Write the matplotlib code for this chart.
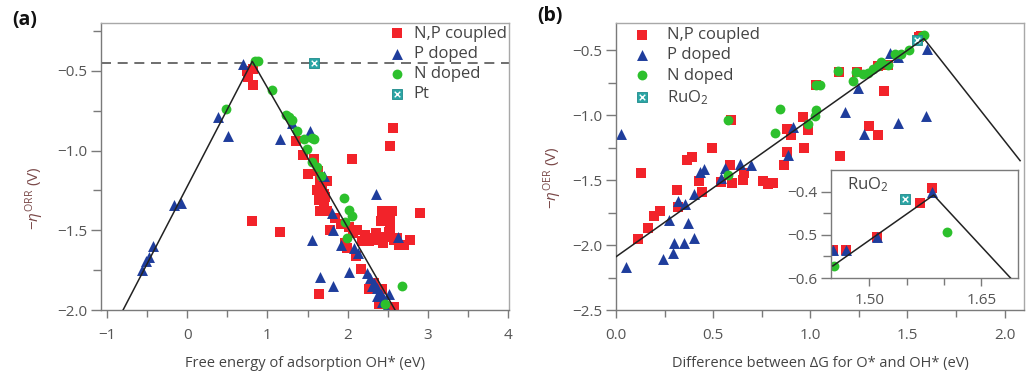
import matplotlib
matplotlib.use("Agg")
import matplotlib.pyplot as plt
from matplotlib.ticker import MultipleLocator, FixedLocator
from matplotlib.legend_handler import HandlerTuple

plt.rcParams['font.family'] = ['Open Sans', 'DejaVu Sans']
plt.rcParams['mathtext.fontset'] = 'custom'
plt.rcParams['mathtext.rm'] = 'Open Sans'
plt.rcParams['mathtext.it'] = 'Open Sans:italic'

# ---------------- data: panel (a) ORR ----------------
a_np_x = [0.74, 0.76, 0.82, 0.82, 0.81, 1.15, 1.35, 1.44, 1.58, 1.51,
          1.63, 1.66, 1.74, 1.62, 1.71, 1.64, 1.71, 1.65, 1.74, 1.84,
          1.91, 2.05, 2.57, 2.53, 2.43, 2.55, 2.41, 2.53, 2.90, 1.78,
          2.01, 2.12, 2.22, 2.30, 2.39, 2.47, 2.51, 2.58, 2.64, 2.70,
          2.77, 2.35, 1.99, 2.16, 1.64, 2.26, 2.43, 2.39, 2.58, 2.53,
          1.68, 1.72, 2.06, 2.18, 2.27, 2.44, 2.33, 1.96, 2.10, 2.62]
a_np_y = [-0.50, -0.54, -0.49, -0.59, -1.44, -1.51, -0.94, -1.03, -1.05, -1.15,
          -1.13, -1.19, -1.19, -1.25, -1.27, -1.31, -1.33, -1.38, -1.38, -1.42,
          -1.46, -1.05, -0.86, -0.97, -1.38, -1.38, -1.44, -1.44, -1.39, -1.50,
          -1.48, -1.50, -1.53, -1.55, -1.56, -1.54, -1.51, -1.56, -1.59, -1.59,
          -1.56, -1.52, -1.61, -1.74, -1.90, -1.87, -1.87, -1.96, -1.98, -1.50,
          -1.22, -1.29, -1.52, -1.57, -1.57, -1.58, -1.83, -1.58, -1.66, -1.55]

a_p_x = [0.70, 0.38, 0.51, -0.16, -0.08, -0.43, -0.48, -0.51, -0.57, 1.15,
         1.53, 1.30, 2.35, 1.71, 1.80, 1.82, 1.55, 1.91, 2.08, 2.13,
         2.01, 1.66, 1.82, 2.63, 2.24, 2.28, 2.33, 2.37, 2.41, 2.45,
         2.48, 2.51, 2.30, 2.36, 2.43]
a_p_y = [-0.46, -0.79, -0.91, -1.34, -1.33, -1.60, -1.67, -1.69, -1.75, -0.93,
         -0.88, -0.83, -1.27, -1.16, -1.39, -1.50, -1.56, -1.59, -1.61, -1.64,
         -1.76, -1.79, -1.85, -1.54, -1.77, -1.80, -1.83, -1.86, -1.90, -1.93,
         -1.99, -1.90, -1.85, -1.91, -1.95]

a_n_x = [0.85, 0.88, 0.48, 1.05, 1.23, 1.27, 1.31, 1.37, 1.45, 1.55,
         1.58, 1.49, 1.55, 1.62, 1.67, 1.95, 2.01, 2.05, 1.96, 1.99,
         2.68, 2.46]
a_n_y = [-0.44, -0.44, -0.74, -0.62, -0.78, -0.79, -0.81, -0.88, -0.93, -0.92,
         -0.93, -0.99, -1.07, -1.10, -1.16, -1.30, -1.37, -1.41, -1.45, -1.55,
         -1.85, -1.96]

a_pt_x = [1.58]
a_pt_y = [-0.45]

a_line_x = [-0.80, 0.81, 2.59]
a_line_y = [-2.00, -0.44, -2.00]
a_dash_y = -0.45

# ---------------- data: panel (b) OER ----------------
b_np_x = [0.111, 0.128, 0.166, 0.195, 0.226, 0.312, 0.320, 0.368, 0.392, 0.428,
          0.445, 0.492, 0.543, 0.586, 0.598, 0.654, 0.658, 0.757, 0.783, 0.809,
          0.865, 0.882, 0.882, 0.903, 0.965, 0.968, 0.989, 1.151, 1.302, 1.348,
          1.379, 1.571, 1.146, 1.240, 1.348, 1.400, 1.560, 1.030, 0.590]
b_np_y = [-1.956, -1.444, -1.872, -1.777, -1.736, -1.577, -1.705, -1.346, -1.321, -1.508,
          -1.595, -1.251, -1.513, -1.385, -1.521, -1.500, -1.444, -1.508, -1.526, -1.521,
          -1.385, -1.282, -1.103, -1.154, -1.013, -1.251, -1.115, -1.315, -1.085, -1.154,
          -0.813, -0.390, -0.667, -0.670, -0.623, -0.615, -0.400, -0.765, -1.040]

b_p_x = [0.026, 0.050, 0.243, 0.272, 0.320, 0.355, 0.298, 0.295, 0.350, 0.372,
         0.401, 0.401, 0.432, 0.454, 0.540, 0.560, 0.637, 0.697, 0.911, 0.886,
         1.177, 1.246, 1.276, 1.408, 1.451, 1.451, 1.602, 1.597]
b_p_y = [-1.141, -2.167, -2.110, -1.808, -1.659, -1.685, -1.987, -2.064, -1.987, -1.828,
         -1.949, -1.608, -1.436, -1.418, -1.487, -1.410, -1.372, -1.385, -1.090, -1.308,
         -0.979, -0.790, -1.141, -0.521, -0.551, -1.059, -0.487, -1.008]

b_n_x = [0.577, 0.577, 0.843, 0.817, 0.989, 1.023, 1.031, 1.031, 1.048, 1.143,
         1.220, 1.237, 1.271, 1.297, 1.323, 1.348, 1.365, 1.400, 1.434, 1.465,
         1.508, 1.574, 1.585]
b_n_y = [-1.038, -1.462, -0.956, -1.136, -1.064, -1.008, -0.962, -0.769, -0.764, -0.662,
         -0.736, -0.667, -0.685, -0.674, -0.641, -0.623, -0.590, -0.615, -0.526, -0.526,
         -0.500, -0.390, -0.385]

b_ru_x = [1.548]
b_ru_y = [-0.418]

b_line_x = [0.0, 1.585, 2.08]
b_line_y = [-2.09, -0.41, -1.35]

# inset (zoom near the RuO2 apex)
in_np_x = [1.584, 1.568, 1.510, 1.469, 1.451]
in_np_y = [-0.392, -0.427, -0.504, -0.536, -0.536]
in_p_x = [1.584, 1.510, 1.469, 1.451]
in_p_y = [-0.402, -0.504, -0.536, -0.536]
in_n_x = [1.604, 1.452]
in_n_y = [-0.494, -0.573]
in_line_x = [1.451, 1.586, 1.689]
in_line_y = [-0.572, -0.408, -0.600]

labels_a = ['N,P coupled', 'P doped', 'N doped', 'Pt']
labels_b = ['N,P coupled', 'P doped', 'N doped', 'RuO$_2$']

# ---------------- style ----------------
RED = '#f2232a'
BLUE = '#1f3d9c'
GREEN = '#2cc02c'
TEAL = '#2aa5a5'
TICKC = '#555555'
SPINE = '#7a7a7a'
YLAB = '#7a4848'
TXT = '#444444'
S_SQ, S_TRI, S_CIR = 46, 62, 50
TICKFS = 11

fig = plt.figure(figsize=(10.35, 3.72), dpi=100)
axA = fig.add_axes([101/1035, 1-310/372, 408/1035, 287/372])
axB = fig.add_axes([616/1035, 1-310/372, 408/1035, 287/372])
axI = fig.add_axes([831/1035, 1-278/372, 187/1035, 108/372])


def style(ax, fs=TICKFS, xpad=7):
    for side in ['left', 'bottom']:
        ax.spines[side].set_color(SPINE)
        ax.spines[side].set_linewidth(1.0)
    for side in ['top', 'right']:
        ax.spines[side].set_color('#a8a8a8')
        ax.spines[side].set_linewidth(1.0)
    ax.tick_params(which='both', direction='out', colors=SPINE,
                   labelcolor=TICKC, labelsize=fs, width=1.0)
    ax.tick_params(axis='x', which='major', length=6, pad=xpad)
    ax.tick_params(axis='x', which='minor', length=5)
    ax.tick_params(axis='y', which='major', length=7, pad=3)
    ax.tick_params(axis='y', which='minor', length=6)


def draw_points(ax, npx, npy, px, py, nx, ny, rx, ry):
    h1 = ax.scatter(npx, npy, marker='s', s=S_SQ, c=RED, linewidths=0, zorder=2)
    h2 = ax.scatter(px, py, marker='^', s=S_TRI, c=BLUE, linewidths=0, zorder=2.1)
    h3 = ax.scatter(nx, ny, marker='o', s=S_CIR, c=GREEN, linewidths=0, zorder=2.2)
    h4a = ax.scatter(rx, ry, marker='s', s=S_SQ, c=TEAL, edgecolors='#1d8a8a',
                     linewidths=0.6, zorder=2.3)
    h4b = ax.scatter(rx, ry, marker='x', s=S_SQ * 0.35, c='white', linewidths=1.0,
                     zorder=2.4)
    return [h1, h2, h3, (h4a, h4b)]


legend_kw = dict(loc='upper left', frameon=False, fontsize=12, handlelength=1.0,
                 labelspacing=0.25, borderpad=0.0, borderaxespad=0.0,
                 handler_map={tuple: HandlerTuple(ndivide=1)}, labelcolor=TXT)

# ---------------- panel (a) ----------------
style(axA)
hA = draw_points(axA, a_np_x, a_np_y, a_p_x, a_p_y, a_n_x, a_n_y, a_pt_x, a_pt_y)
axA.plot(a_line_x, a_line_y, color='#222222', lw=1.1, zorder=3)
axA.axhline(a_dash_y, color='#555555', lw=1.2, ls=(0, (6, 4)), zorder=1)
axA.set_xlim(-1.075, 4.01)
axA.set_ylim(-2.0, -0.2)
axA.set_xticks([-1, 0, 1, 2, 3, 4])
axA.set_xticklabels(['\u22121', '0', '1', '2', '3', '4'])
axA.xaxis.set_minor_locator(MultipleLocator(0.5))
axA.set_yticks([-2.0, -1.5, -1.0, -0.5])
axA.set_yticklabels(['\u22122.0', '\u22121.5', '\u22121.0', '\u22120.5'])
axA.yaxis.set_minor_locator(MultipleLocator(0.25))
axA.set_xlabel('Free energy of adsorption OH* (eV)', fontsize=10.5, color=TXT)
axA.set_ylabel(r'$-\eta^{\mathrm{ORR}}$ (V)', fontsize=11, color=YLAB)
axA.yaxis.set_label_coords(-0.135, 0.39)
axA.xaxis.set_label_coords(0.5, -0.162)
axA.legend(hA, labels_a, bbox_to_anchor=(0.705, 0.99), handletextpad=0.5,
           **legend_kw)

# ---------------- panel (b) ----------------
style(axB)
hB = draw_points(axB, b_np_x, b_np_y, b_p_x, b_p_y, b_n_x, b_n_y, b_ru_x, b_ru_y)
axB.plot(b_line_x, b_line_y, color='#222222', lw=1.1, zorder=3)
axB.set_xlim(0.0, 2.1)
axB.set_ylim(-2.5, -0.29)
axB.set_xticks([0.0, 0.5, 1.0, 1.5, 2.0])
axB.set_xticklabels(['0.0', '0.5', '1.0', '1.5', '2.0'])
axB.xaxis.set_minor_locator(MultipleLocator(0.25))
axB.set_yticks([-2.5, -2.0, -1.5, -1.0, -0.5])
axB.set_yticklabels(['\u22122.5', '\u22122.0', '\u22121.5', '\u22121.0', '\u22120.5'])
axB.yaxis.set_minor_locator(MultipleLocator(0.25))
axB.set_xlabel('Difference between \u0394G for O* and OH* (eV)', fontsize=10.5,
               color=TXT)
axB.set_ylabel(r'$-\eta^{\mathrm{OER}}$ (V)', fontsize=11, color=YLAB)
axB.yaxis.set_label_coords(-0.128, 0.46)
axB.xaxis.set_label_coords(0.5, -0.162)
axB.legend(hB, labels_b, bbox_to_anchor=(0.043, 0.985), handletextpad=1.0,
           **legend_kw)

# ---------------- inset ----------------
style(axI, xpad=5)
for side in ['top', 'right']:
    axI.spines[side].set_color(SPINE)
draw_points(axI, in_np_x, in_np_y, in_p_x, in_p_y, in_n_x, in_n_y, b_ru_x, b_ru_y)
axI.plot(in_line_x, in_line_y, color='#222222', lw=1.1, zorder=3)
axI.set_xlim(1.4485, 1.699)
axI.set_ylim(-0.6, -0.35)
axI.set_xticks([1.50, 1.65])
axI.set_xticklabels(['1.50', '1.65'])
axI.xaxis.set_minor_locator(FixedLocator([1.55, 1.60]))
axI.set_yticks([-0.6, -0.5, -0.4])
axI.set_yticklabels(['\u22120.6', '\u22120.5', '\u22120.4'])
axI.yaxis.set_minor_locator(FixedLocator([-0.55, -0.45]))
axI.text(0.085, 0.86, 'RuO$_2$', transform=axI.transAxes, fontsize=12,
         color=TXT, va='center', ha='left')

# panel letters
fig.text(12/1035, 1-20/372, '(a)', fontsize=14, fontweight='bold', va='center',
         ha='left', color='#111111')
fig.text(537/1035, 1-16/372, '(b)', fontsize=14, fontweight='bold', va='center',
         ha='left', color='#111111')

fig.savefig('out.png', dpi=100)
